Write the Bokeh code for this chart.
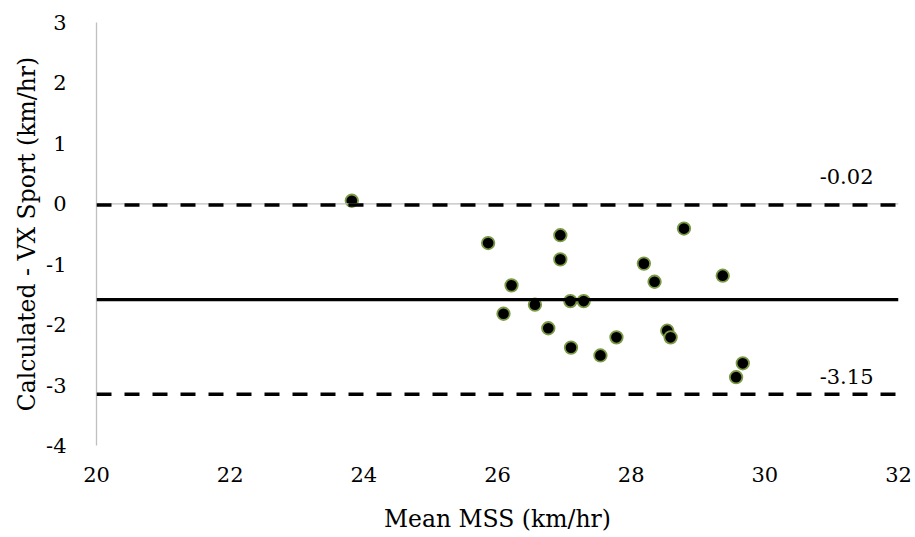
from bokeh.plotting import figure
from bokeh.models import ColumnDataSource, Span, Label, FixedTicker
from bokeh.embed import file_html
from bokeh.resources import INLINE

# ---- data ----
mean_mss = [23.82, 25.86, 26.94, 26.94, 28.79, 26.21, 28.19, 28.35, 29.37, 26.56,
            27.09, 27.29, 26.09, 26.76, 27.10, 27.54, 27.78, 28.54, 28.59, 29.67, 29.57]
difference = [0.05, -0.65, -0.52, -0.92, -0.41, -1.35, -0.99, -1.29, -1.19, -1.67,
              -1.61, -1.61, -1.82, -2.06, -2.38, -2.51, -2.21, -2.10, -2.21, -2.64, -2.87]
upper_loa = -0.02
lower_loa = -3.15
bias = -1.585
x_ticks = [20, 22, 24, 26, 28, 30, 32]
y_ticks = [-4, -3, -2, -1, 0, 1, 2, 3]

FONT = "DejaVu Serif"
FS = "21px"
TFS = "23.5px"

p = figure(frame_width=802, frame_height=423, x_range=(20, 32), y_range=(-4, 3),
           output_backend="svg", toolbar_location=None,
           min_border_left=96, min_border_right=15, min_border_top=22, min_border_bottom=90)
p.outline_line_color = None
p.grid.visible = False
p.background_fill_color = "white"

# axes
p.xaxis.ticker = FixedTicker(ticks=x_ticks)
p.yaxis.ticker = FixedTicker(ticks=y_ticks)
p.xaxis.major_label_overrides = {t: str(t) for t in x_ticks}
p.yaxis.major_label_overrides = {t: str(t) for t in y_ticks}
for ax in (p.xaxis, p.yaxis):
    ax.major_tick_line_color = None
    ax.minor_tick_line_color = None
    ax.major_label_text_font = FONT
    ax.major_label_text_font_size = FS
    ax.major_label_text_color = "black"
    ax.axis_label_text_font = FONT
    ax.axis_label_text_font_size = TFS
    ax.axis_label_text_font_style = "normal"
    ax.axis_label_text_color = "black"
p.xaxis.axis_line_color = None
p.yaxis.axis_line_color = "#bfbfbf"
p.yaxis.axis_line_width = 1.3
p.xaxis.axis_label = "Mean MSS (km/hr)"
p.yaxis.axis_label = "Calculated - VX Sport (km/hr)"
p.xaxis.major_label_standoff = 15
p.yaxis.major_label_standoff = 24
p.xaxis.axis_label_standoff = 20
p.yaxis.axis_label_standoff = 2

# horizontal axis line crossing at 0
p.add_layout(Span(location=0, dimension="width", line_color="#bfbfbf", line_width=1.3))

# limits of agreement and bias
p.add_layout(Span(location=upper_loa, dimension="width", line_color="black",
                  line_width=3.5, line_dash="15 13"))
p.add_layout(Span(location=lower_loa, dimension="width", line_color="black",
                  line_width=3.5, line_dash="15 13"))
p.add_layout(Span(location=bias, dimension="width", line_color="black", line_width=3.2))

src = ColumnDataSource(data=dict(x=mean_mss, y=difference))
p.scatter("x", "y", source=src, size=12.5, fill_color="black",
          line_color="#7b9a45", line_width=1.8)

p.add_layout(Label(x=32, y=upper_loa, text=f"{upper_loa:.2f}", x_offset=-25, y_offset=28,
                   text_align="right", text_baseline="middle", text_font=FONT,
                   text_font_size=FS, text_color="black"))
p.add_layout(Label(x=32, y=lower_loa, text=f"{lower_loa:.2f}", x_offset=-25, y_offset=18,
                   text_align="right", text_baseline="middle", text_font=FONT,
                   text_font_size=FS, text_color="black"))

open("out.html", "w").write(file_html(p, INLINE))
